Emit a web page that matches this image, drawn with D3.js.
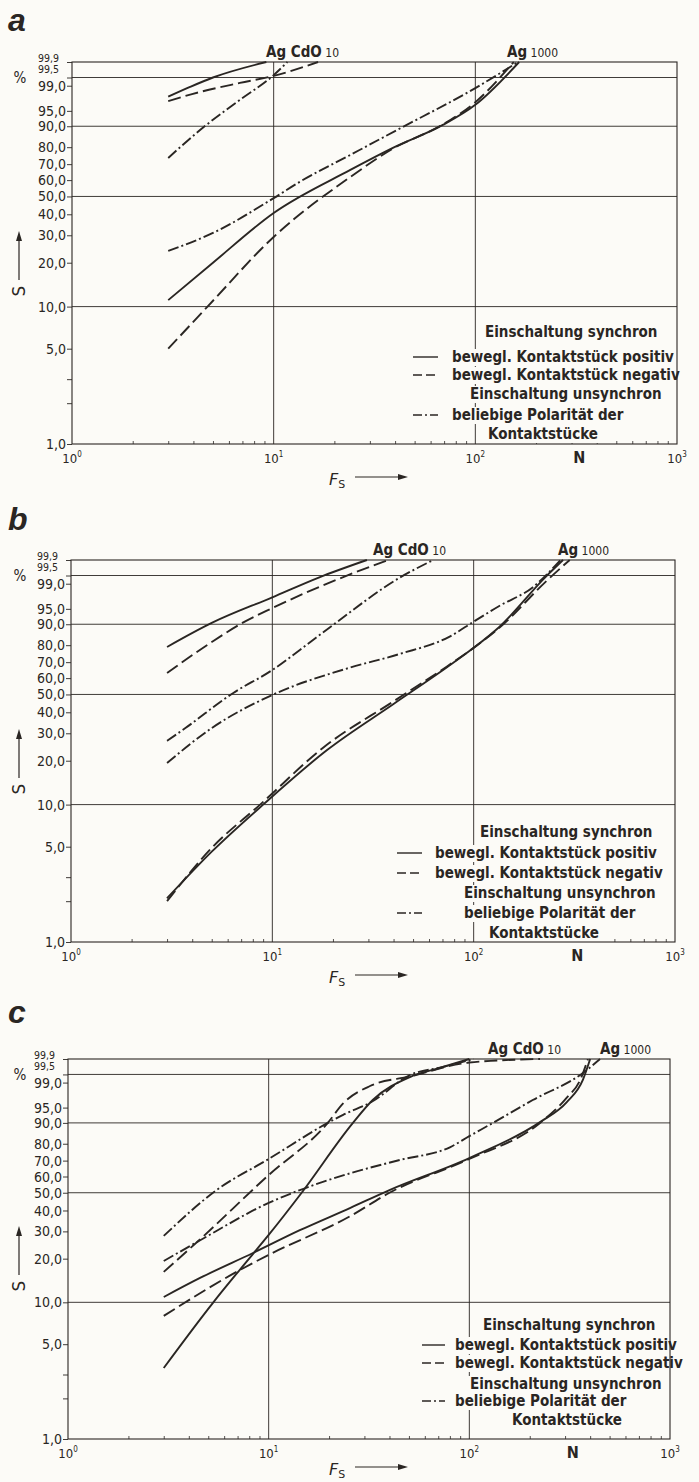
<!DOCTYPE html>
<html>
<head>
<meta charset="utf-8">
<script src="https://cdn.jsdelivr.net/npm/d3@7"></script>
<style>
  body { margin: 0; background: #fcfbf7; }
  text { fill: #2a2623; }
</style>
</head>
<body>
<script>
'use strict';

// ---- axis values ----
const yTickVals = [1, 2, 3, 5, 10, 20, 30, 40, 50, 60, 70, 80, 90, 95, 99, 99.5, 99.9];
const yLabelVals = [1, 5, 10, 20, 30, 40, 50, 60, 70, 80, 90, 95, 99, 99.5, 99.9];
const yLabelText = ["1,0", "5,0", "10,0", "20,0", "30,0", "40,0", "50,0", "60,0", "70,0",
  "80,0", "90,0", "95,0", "99,0", "99,5", "99,9"];
const yGridVals = [10, 50, 90, 99.5];
const xGridVals = [10, 100];
const xLabelVals = [1, 10, 100, 1000];
const xLabelExp = ["0", "1", "2", "3"];
const xMinorVals = [2, 3, 4, 5, 6, 7, 8, 9, 20, 30, 40, 50, 60, 70, 80, 90, 200, 300, 400, 500, 600, 700, 800, 900];

// ---- legend ----
const legendText = ["Einschaltung synchron", "bewegl. Kontaktstück positiv", "bewegl. Kontaktstück negativ",
  "Einschaltung unsynchron", "beliebige Polarität der", "Kontaktstücke"];
const legendStyle = [null, "solid", "dashed", null, "dashdot", null];

// ---- panel a: [F_S, S %] ----
const aCdoSolid = [[3, 97.8], [3.85, 98.9], [5, 99.5], [9.2, 99.9]];
const aCdoDash = [[3, 97.1], [4.3, 98.4], [6.8, 99.2], [10, 99.57], [16.6, 99.9]];
const aCdoDot = [[3, 73.8], [4.5, 89.7], [6.8, 97.3], [10, 99.6], [11.7, 99.9]];
const aAgSolid = [[3, 11.1], [5, 20], [10, 40.7], [24, 66.4], [39, 79.6], [69, 90.5], [100, 96.4], [165, 99.9]];
const aAgDash = [[3, 5.0], [4.7, 10], [10, 29.3], [24, 62], [39, 79.2], [69, 90.7], [100, 96.9], [155, 99.9]];
const aAgDot = [[3, 23.9], [5, 31], [10, 49], [13.5, 59], [24, 75.6], [41, 88.5], [100, 98.8], [163, 99.9]];

// ---- panel b ----
const bCdoSolid = [[3, 79], [5, 90.5], [10, 97.4], [17, 99.4], [29.5, 99.9]];
const bCdoDash = [[3, 63.2], [5, 81.7], [7.1, 90.5], [10, 95.2], [24.3, 99.55], [37.6, 99.9]];
const bCdoDot = [[3, 26.9], [3.7, 32.3], [6.4, 50.9], [10, 65.1], [13.7, 77.3], [20, 89.7], [43, 99.4], [63, 99.9]];
const bAgSolid = [[3, 2.1], [5, 4.6], [9, 10], [18.7, 23.5], [40, 44.5], [74, 67], [100, 78.5], [134, 88.9], [226, 99.4], [278, 99.9]];
const bAgDash = [[3, 2.0], [5, 4.9], [8.7, 10], [18, 24.5], [40, 46], [74, 67.5], [100, 78.5], [134, 88.5], [230, 99.2], [300, 99.9]];
const bAgDot = [[3, 19.3], [5, 32.3], [10, 49.7], [24, 66.4], [43, 75], [76, 84.5], [100, 91], [134, 95.7], [197, 98.7], [270, 99.9]];

// ---- panel c ----
const cCdoSolid = [[3, 3.35], [5.3, 10], [7.3, 17.3], [10, 28.5], [14.6, 50], [26.3, 90], [33, 96.7], [50.6, 99.37], [71, 99.73], [100, 99.9]];
const cCdoDash = [[3, 16.3], [4.4, 25.7], [10, 60.9], [19.7, 90], [23.5, 96], [32, 98.7], [50.6, 99.4], [100, 99.85], [225, 99.9]];
const cCdoDot = [[3, 28.1], [5.5, 51.6], [10, 71], [19.7, 90], [23.5, 92.9], [32.5, 96.3], [50.6, 99.47], [74, 99.76], [105, 99.9]];
const cAgSolid = [[3, 10.9], [4.55, 14.8], [8.35, 21.8], [14.3, 30.5], [25.4, 41.3], [40, 51.6], [100, 71.6], [225, 90.3], [306, 96.3], [368, 99.2], [400, 99.9]];
const cAgDash = [[3, 8.0], [7.2, 16.8], [10, 21.2], [25.4, 37], [40, 50], [100, 71], [225, 90], [300, 96.8], [360, 99.3], [390, 99.9]];
const cAgDot = [[3, 19.3], [4.4, 25.7], [10, 44.1], [14.3, 51.6], [25.4, 62], [45, 70.4], [80, 78], [100, 84], [131, 90], [207, 96.7], [368, 99.56], [448, 99.9]];

const ink = "#2a2623";
const cond = "'DejaVu Sans Condensed', 'DejaVu Sans', sans-serif";
const dashes = { solid: null, dashed: "13,5", dashdot: "11,3,2,3" };

// layout of the three panels
const panels = [
  { id: "a", top: 62, bottom: 444, left: 72, right: 677, letterY: 31,
    cdoX: 266, agX: 507, fY: 41,
    legX: [485, 452, 452, 470, 452, 488], legY: [-107, -82, -64, -45, -24, -5], symX: [413, 438],
    series: [[aCdoSolid, "solid"], [aCdoDash, "dashed"], [aCdoDot, "dashdot"],
             [aAgSolid, "solid"], [aAgDash, "dashed"], [aAgDot, "dashdot"]] },
  { id: "b", top: 560, bottom: 942, left: 71, right: 675, letterY: 530,
    cdoX: 373, agX: 558, fY: 41,
    legX: [480, 435, 435, 464, 464, 489], legY: [-105, -84, -64, -44, -24, -4], symX: [397, 422],
    series: [[bCdoSolid, "solid"], [bCdoDash, "dashed"], [bCdoDot, "dashdot"],
             [bAgSolid, "solid"], [bAgDash, "dashed"], [bAgDot, "dashdot"]] },
  { id: "c", top: 1059, bottom: 1439, left: 68, right: 670, letterY: 1023,
    cdoX: 488, agX: 600, fY: 36,
    legX: [483, 455, 455, 470, 455, 512], legY: [-109, -89, -71, -50, -33, -14], symX: [422, 445],
    series: [[cCdoSolid, "solid"], [cCdoDash, "dashed"], [cCdoDot, "dashdot"],
             [cAgSolid, "solid"], [cAgDash, "dashed"], [cAgDot, "dashdot"]] }
];

// Weibull probability transform
function wb(p) { return Math.log(-Math.log(1 - p / 100)); }

const svg = d3.select("body").append("svg")
  .attr("width", 699).attr("height", 1482)
  .style("background", "#fcfbf7");

panels.forEach(drawPanel);

function drawPanel(p) {
  const g = svg.append("g");
  const x = d3.scaleLog().domain([1, 1000]).range([p.left, p.right]);
  const yw = d3.scaleLinear().domain([wb(1), wb(99.9)]).range([p.bottom, p.top]);
  const y = v => yw(wb(v));

  // panel letter
  svg.append("text")
    .attr("x", 8).attr("y", p.letterY)
    .style("font-family", "'Liberation Sans', Arial, sans-serif")
    .style("font-style", "italic").style("font-weight", "bold")
    .style("font-size", "32px")
    .text(p.id);

  // grid lines
  g.selectAll(".hg").data(yGridVals).enter().append("line")
    .attr("x1", p.left).attr("x2", p.right)
    .attr("y1", d => y(d)).attr("y2", d => y(d))
    .attr("stroke", ink).attr("stroke-width", 0.9);
  g.selectAll(".vg").data(xGridVals).enter().append("line")
    .attr("y1", p.top).attr("y2", p.bottom)
    .attr("x1", d => x(d)).attr("x2", d => x(d))
    .attr("stroke", ink).attr("stroke-width", 0.9);

  // x minor ticks (inside)
  const xAx = g.append("g")
    .attr("transform", "translate(0," + p.bottom + ")")
    .call(d3.axisBottom(x).tickValues(xMinorVals).tickSize(-3).tickFormat(""));
  xAx.select(".domain").remove();
  xAx.selectAll("line").attr("stroke", ink).attr("stroke-width", 0.8);

  // y ticks (outside)
  const yAx = g.append("g")
    .attr("transform", "translate(" + p.left + ",0)")
    .call(d3.axisLeft(yw).tickValues(yTickVals.map(wb)).tickSize(5).tickFormat(""));
  yAx.select(".domain").remove();
  yAx.selectAll("line").attr("stroke", ink).attr("stroke-width", 0.9);

  // y labels; the two top ones are set smaller and squeezed above
  yLabelVals.forEach((v, i) => {
    const small = v > 99.2;
    let yy = y(v);
    if (v === 99.9) yy = p.top - 4;
    if (v === 99.5) yy = p.top + 7;
    g.append("text")
      .attr("x", small ? p.left - 13 : p.left - 6)
      .attr("y", yy)
      .attr("dy", "0.36em")
      .attr("text-anchor", "end")
      .style("font-family", cond)
      .style("font-size", small ? "10.5px" : "14px")
      .text(yLabelText[i]);
  });
  g.append("text")
    .attr("x", 20).attr("y", p.top + 16)
    .attr("dy", "0.36em").attr("text-anchor", "middle")
    .style("font-family", cond).style("font-size", "15px")
    .text("%");

  // y title S with arrow
  const sx = 19;
  g.append("text")
    .attr("transform", "translate(" + (sx + 6) + "," + (p.bottom - 153) + ") rotate(-90)")
    .attr("text-anchor", "middle")
    .style("font-family", "'DejaVu Sans', sans-serif").style("font-size", "17px")
    .text("S");
  g.append("line")
    .attr("x1", sx).attr("x2", sx)
    .attr("y1", p.bottom - 164).attr("y2", p.bottom - 204)
    .attr("stroke", ink).attr("stroke-width", 1.2);
  g.append("path")
    .attr("d", "M" + (sx - 3) + "," + (p.bottom - 203) + "L" + sx + "," + (p.bottom - 213) +
      "L" + (sx + 3) + "," + (p.bottom - 203) + "Z")
    .attr("fill", ink);

  // x labels 10^n
  xLabelVals.forEach((v, i) => {
    const t = g.append("text")
      .attr("x", x(v)).attr("y", p.bottom + 19)
      .attr("text-anchor", "middle")
      .style("font-family", cond).style("font-size", "13px");
    t.append("tspan").text("10");
    t.append("tspan").attr("dy", -6).style("font-size", "8px").text(xLabelExp[i]);
  });
  g.append("text")
    .attr("x", x(Math.pow(10, 2.5)) + 3).attr("y", p.bottom + 19)
    .attr("text-anchor", "middle")
    .style("font-family", cond).style("font-weight", "bold").style("font-size", "16px")
    .text("N");

  // x title F_S with arrow
  const fx = 329;
  const ft = g.append("text")
    .attr("x", fx).attr("y", p.bottom + p.fY)
    .style("font-family", "'DejaVu Sans', sans-serif").style("font-size", "16px");
  ft.append("tspan").style("font-style", "italic").text("F");
  ft.append("tspan").attr("dy", 3).style("font-size", "11px").text("S");
  const ay = p.bottom + p.fY - 8;
  g.append("line")
    .attr("x1", fx + 26).attr("x2", fx + 70)
    .attr("y1", ay).attr("y2", ay)
    .attr("stroke", ink).attr("stroke-width", 1.2);
  g.append("path")
    .attr("d", "M" + (fx + 69) + "," + (ay - 3) + "L" + (fx + 79) + "," + ay +
      "L" + (fx + 69) + "," + (ay + 3) + "Z")
    .attr("fill", ink);

  // curves
  const line = d3.line()
    .x(d => x(d[0]))
    .y(d => y(d[1]))
    .curve(d3.curveMonotoneX);
  g.selectAll(".curve").data(p.series).enter().append("path")
    .attr("d", d => line(d[0]))
    .attr("fill", "none")
    .attr("stroke", ink)
    .attr("stroke-width", 1.9)
    .attr("stroke-dasharray", d => dashes[d[1]]);

  // annotations above frame
  const cdo = g.append("text")
    .attr("x", p.cdoX).attr("y", p.top - 5)
    .style("font-family", cond).style("font-size", "15px");
  cdo.append("tspan").style("font-weight", "bold").text("Ag CdO");
  cdo.append("tspan").style("font-size", "12px").text(" 10");
  const ag = g.append("text")
    .attr("x", p.agX).attr("y", p.top - 5)
    .style("font-family", cond).style("font-size", "15px");
  ag.append("tspan").style("font-weight", "bold").text("Ag");
  ag.append("tspan").style("font-size", "12px").text(" 1000");

  // legend with white backing behind each text line
  const lg = g.append("g");
  const bg = lg.append("g");
  const tg = lg.append("g");
  legendText.forEach((s, i) => {
    const t = tg.append("text")
      .attr("x", p.legX[i]).attr("y", p.bottom + p.legY[i])
      .style("font-family", cond).style("font-weight", "bold").style("font-size", "15px")
      .text(s);
    const bb = t.node().getBBox();
    bg.append("rect")
      .attr("x", bb.x - 2).attr("y", bb.y + 1)
      .attr("width", bb.width + 4).attr("height", bb.height - 1)
      .attr("fill", "#fcfbf7");
    if (legendStyle[i]) {
      tg.append("line")
        .attr("x1", p.symX[0]).attr("x2", p.symX[1])
        .attr("y1", p.bottom + p.legY[i] - 5).attr("y2", p.bottom + p.legY[i] - 5)
        .attr("stroke", ink).attr("stroke-width", 1.4)
        .attr("stroke-dasharray", legendStyle[i] === "dashed" ? "9,4" :
          legendStyle[i] === "dashdot" ? "9,3,2,3" : null);
    }
  });

  // frame
  g.append("rect")
    .attr("x", p.left).attr("y", p.top)
    .attr("width", p.right - p.left).attr("height", p.bottom - p.top)
    .attr("fill", "none").attr("stroke", ink).attr("stroke-width", 1.1);
}
</script>
</body>
</html>
